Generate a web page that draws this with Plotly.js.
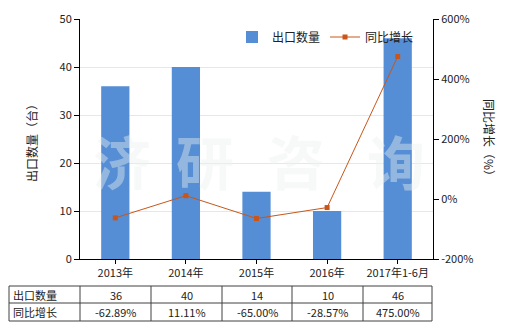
<!DOCTYPE html>
<html><head><meta charset="utf-8">
<script src="https://cdn.plot.ly/plotly-3.0.1.min.js"></script>
<style>body{margin:0;background:#fff}#c{width:520px;height:330px}</style>
</head><body><div id="c"></div>
<script>
var categories = ["2013年","2014年","2015年","2016年","2017年1-6月"];
var exportQty = [36, 40, 14, 10, 46];
var growthPct = [-62.89, 11.11, -65.00, -28.57, 475.00];
var qtyLabels = ["36","40","14","10","46"];
var growthLabels = ["-62.89%","11.11%","-65.00%","-28.57%","475.00%"];
var seriesNames = ["出口数量","同比增长"];
var axisTitles = ["出口数量（台）","同比增长（%）"];

var F = "'Noto Sans CJK SC', 'Liberation Sans', sans-serif";
var L = 80, R = 433, T = 19, B = 259;
function px(x){ return (x - L) / (R - L); }
function py(y){ return (B - y) / (B - T); }

var shapes = [], ann = [];
var colX = [9, 80, 151, 222, 292, 363, 432];
var rowY = [286, 303, 321];
rowY.forEach(function(y){
  shapes.push({type:'line', xref:'paper', yref:'paper', x0:px(colX[0]), x1:px(colX[6]), y0:py(y), y1:py(y), line:{color:'#404040', width:1}});
});
colX.forEach(function(x){
  shapes.push({type:'line', xref:'paper', yref:'paper', x0:px(x), x1:px(x), y0:py(rowY[0]), y1:py(rowY[2]), line:{color:'#404040', width:1}});
});
var rows = [qtyLabels, growthLabels];
rows.forEach(function(r, ri){
  var yc = (rowY[ri] + rowY[ri+1]) / 2;
  ann.push({xref:'paper', yref:'paper', x:px(colX[0]+2), y:py(yc), xanchor:'left', yanchor:'middle', text:seriesNames[ri], showarrow:false, font:{family:F, size:11, color:'#222'}});
  r.forEach(function(t, i){
    ann.push({xref:'paper', yref:'paper', x:px((colX[i+1]+colX[i+2])/2), y:py(yc), xanchor:'center', yanchor:'middle', text:t, showarrow:false, font:{family:F, size:11, color:'#222'}});
  });
});
// axis titles
ann.push({xref:'paper', yref:'paper', x:px(31), y:py(140), xanchor:'center', yanchor:'middle', textangle:-90, text:axisTitles[0], showarrow:false, font:{family:F, size:12, color:'#222'}});
ann.push({xref:'paper', yref:'paper', x:px(490), y:py(140), xanchor:'center', yanchor:'middle', textangle:90, text:axisTitles[1], showarrow:false, font:{family:F, size:12, color:'#222'}});
// watermark
var wm = ["济","研","咨","询"];
var wmX = [122, 205, 296, 396];
wm.forEach(function(c, i){
  ann.push({xref:'paper', yref:'paper', x:px(wmX[i]), y:py(160), xanchor:'center', yanchor:'middle', text:'<b>'+c+'</b>', showarrow:false, font:{family:F, size:58, color:'rgba(235,240,240,0.42)'}});
});

var traces = [
  {type:'bar', x:categories, y:exportQty, name:seriesNames[0], marker:{color:'#558ed5'}, width:0.4, yaxis:'y'},
  {type:'scatter', mode:'lines+markers', x:categories, y:growthPct, name:seriesNames[1], yaxis:'y2',
   line:{color:'#c8561a', width:1}, marker:{color:'#c8561a', symbol:'square', size:5}}
];

var layout = {
  width:520, height:330,
  margin:{l:L, r:520-R, t:T, b:330-B},
  paper_bgcolor:'#fff', plot_bgcolor:'#fff',
  font:{family:F, size:11, color:'#222'},
  showlegend:true,
  legend:{orientation:'h', x:px(232), y:py(37), xanchor:'left', yanchor:'middle', bgcolor:'rgba(0,0,0,0)', font:{family:F, size:12, color:'#222'}, itemwidth:30},
  xaxis:{type:'category', range:[-0.5,4.5], showline:true, linecolor:'#000', linewidth:1, ticks:'outside', ticklen:4, tickcolor:'#000', showgrid:false, tickfont:{family:F, size:11, color:'#222'}},
  yaxis:{range:[0,50], tickvals:[0,10,20,30,40,50], showline:true, linecolor:'#000', linewidth:1, ticks:'outside', ticklen:5, tickcolor:'#000', gridcolor:'#e8e8df', gridwidth:1, zeroline:false, tickfont:{family:F, size:11, color:'#222'}},
  yaxis2:{overlaying:'y', side:'right', range:[-200,600], tickvals:[-200,0,200,400,600], ticktext:['-200%','0%','200%','400%','600%'], showline:true, linecolor:'#000', linewidth:1, ticks:'outside', ticklen:5, tickcolor:'#000', showgrid:false, zeroline:false, tickfont:{family:F, size:11, color:'#222'}},
  shapes:shapes, annotations:ann
};
Plotly.newPlot('c', traces, layout, {displayModeBar:false, staticPlot:true});
</script></body></html>
